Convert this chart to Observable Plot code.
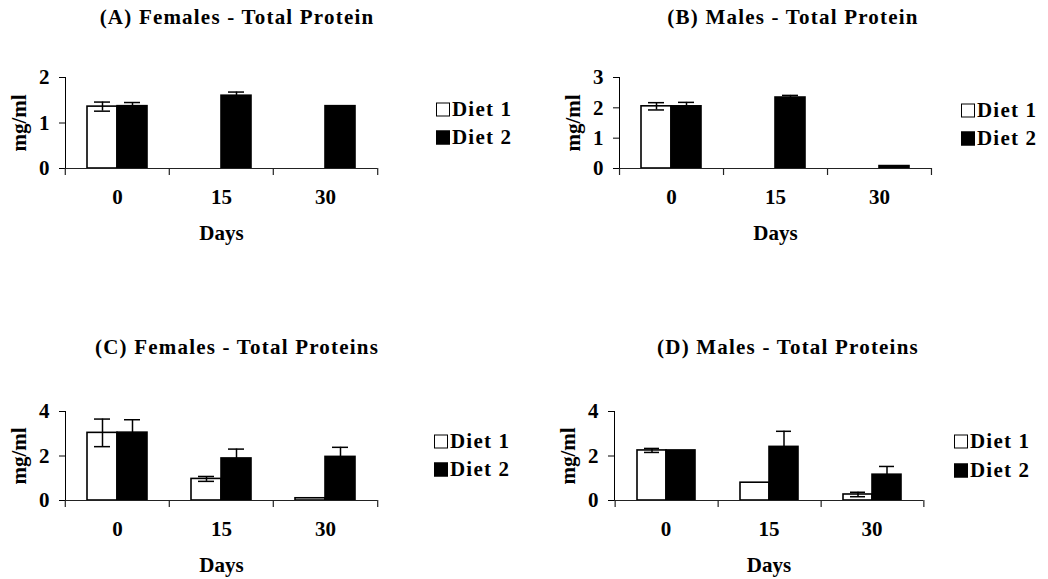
<!DOCTYPE html>
<html>
<head>
<meta charset="utf-8">
<script src="https://cdn.jsdelivr.net/npm/d3@7"></script>
<script src="https://cdn.jsdelivr.net/npm/@observablehq/plot@0.6"></script>
<style>
  html, body { margin: 0; padding: 0; background: #fff; }
  #root { position: relative; width: 1048px; height: 579px; overflow: hidden;
          font-family: "Liberation Serif", "Times New Roman", serif; font-weight: bold; color: #000; }
  .title { position: absolute; font-size: 21px; letter-spacing: 1.2px; white-space: nowrap;
           transform: translate(-50%, -50%); line-height: 1; }
  .panel { position: absolute; }
  .legend-row { position: absolute; font-size: 21px; letter-spacing: 1.2px; white-space: nowrap;
                line-height: 1; display: flex; align-items: center; transform: translateY(-50%); }
  .sw { display: inline-block; width: 14px; height: 14px; border: 1.5px solid #000; box-sizing: border-box; margin-right: 2px; }
</style>
</head>
<body>
<div id="root"></div>
<script>
// ---------- data ----------
const days = ["0", "15", "30"];
const diets = ["Diet 1", "Diet 2"];
const titles = [
  "(A) Females - Total Protein",
  "(B) Males - Total Protein",
  "(C) Females - Total Proteins",
  "(D) Males - Total Proteins"
];
const yLabel = "mg/ml";
const xLabel = "Days";

// (A) Females - Total Protein
const aDiet1 = [1.36, 0, 0];
const aDiet1Err = [0.10, 0, 0];
const aDiet2 = [1.37, 1.60, 1.37];
const aDiet2Err = [0.08, 0.08, 0];
const aTicks = [0, 1, 2];

// (B) Males - Total Protein
const bDiet1 = [2.05, 0, 0];
const bDiet1Err = [0.12, 0, 0];
const bDiet2 = [2.05, 2.34, 0.08];
const bDiet2Err = [0.13, 0.07, 0];
const bTicks = [0, 1, 2, 3];

// (C) Females - Total Proteins
const cDiet1 = [3.04, 0.97, 0.10];
const cDiet1Err = [0.62, 0.11, 0];
const cDiet2 = [3.05, 1.89, 1.96];
const cDiet2Err = [0.58, 0.42, 0.43];
const cTicks = [0, 2, 4];

// (D) Males - Total Proteins
const dDiet1 = [2.25, 0.80, 0.27];
const dDiet1Err = [0.09, 0, 0.10];
const dDiet2 = [2.25, 2.41, 1.16];
const dDiet2Err = [0, 0.70, 0.37];
const dTicks = [0, 2, 4];

// ---------- layout (pixels) ----------
const layout = [
  {x0: 0,   y0: 40,  fl: 64,  fr: 378, ft: 77,  fb: 168, tx: 237, ty: 17,  lx: 436, ly: [109, 137]},
  {x0: 520, y0: 40,  fl: 619, fr: 931, ft: 77,  fb: 168, tx: 793, ty: 17,  lx: 961, ly: [110, 138]},
  {x0: 0,   y0: 372, fl: 64,  fr: 378, ft: 411, fb: 500, tx: 237, ty: 347, lx: 434, ly: [441, 469]},
  {x0: 520, y0: 372, fl: 613, fr: 924, ft: 411, fb: 500, tx: 788, ty: 347, lx: 954, ly: [441, 470]}
];

const series = [
  [aDiet1, aDiet1Err, aDiet2, aDiet2Err, aTicks],
  [bDiet1, bDiet1Err, bDiet2, bDiet2Err, bTicks],
  [cDiet1, cDiet1Err, cDiet2, cDiet2Err, cTicks],
  [dDiet1, dDiet1Err, dDiet2, dDiet2Err, dTicks]
];

const root = document.getElementById("root");
const PAD_OUTER = 0.73;

series.forEach(([d1, e1, d2, e2, ticks], k) => {
  const L = layout[k];
  const data = days.flatMap((day, i) => [
    {day, diet: diets[0], value: d1[i], err: e1[i]},
    {day, diet: diets[1], value: d2[i], err: e2[i]}
  ]);
  const errs = data.filter(d => d.err > 0);
  const marginLeft = L.fl - L.x0;
  const marginTop = L.ft - L.y0;
  const marginRight = 14;
  const marginBottom = 78;
  const width = L.fr - L.x0 + marginRight;
  const height = L.fb - L.y0 + marginBottom;
  const facetW = (L.fr - L.fl) / days.length;
  const step = facetW / (diets.length + 2 * PAD_OUTER);
  const sepOff = PAD_OUTER * step + step / 2;

  const chart = Plot.plot({
    width, height, marginLeft, marginTop, marginRight, marginBottom,
    style: {fontFamily: "'Liberation Serif', 'Times New Roman', serif", fontSize: "21px", fontWeight: "bold", background: "transparent", overflow: "visible", color: "#000"},
    fx: {domain: days, padding: 0, axis: "bottom", label: xLabel, labelAnchor: "center", tickSize: 0, tickPadding: 21, labelOffset: 71},
    x: {domain: diets, paddingInner: 0, paddingOuter: PAD_OUTER, axis: null},
    y: {domain: [0, ticks[ticks.length - 1]], ticks, tickFormat: d => String(d), tickSize: 6, tickPadding: 10, line: true,
        label: yLabel, labelAnchor: "center", labelOffset: 54, labelArrow: false},
    color: {domain: diets, range: ["white", "black"]},
    marks: [
      Plot.barY(data, {fx: "day", x: "diet", y: "value", fill: "diet", stroke: "black", strokeWidth: 1.6}),
      Plot.ruleX(errs, {fx: "day", x: "diet", y1: d => d.value - d.err, y2: d => d.value + d.err, stroke: "black", strokeWidth: 1.5}),
      Plot.tickY(errs, {fx: "day", x: "diet", y: d => d.value + d.err, insetLeft: 7, insetRight: 7, stroke: "black", strokeWidth: 1.5}),
      Plot.tickY(errs, {fx: "day", x: "diet", y: d => d.value - d.err, insetLeft: 7, insetRight: 7, stroke: "black", strokeWidth: 1.5}),
      Plot.ruleY([0], {stroke: "#222", strokeWidth: 1.2}),
      Plot.ruleX(days, {fx: d => d, x: () => diets[0], dx: -sepOff, y1: 0, y2: 0, insetBottom: -7, stroke: "#222", strokeWidth: 1.2}),
      Plot.ruleX([days[days.length - 1]], {fx: d => d, x: () => diets[1], dx: sepOff, y1: 0, y2: 0, insetBottom: -7, stroke: "#222", strokeWidth: 1.2})
    ]
  });
  const holder = document.createElement("div");
  holder.className = "panel";
  holder.style.left = L.x0 + "px";
  holder.style.top = L.y0 + "px";
  holder.appendChild(chart);
  root.appendChild(holder);

  const t = document.createElement("div");
  t.className = "title";
  t.style.left = L.tx + "px";
  t.style.top = L.ty + "px";
  t.textContent = titles[k];
  root.appendChild(t);

  diets.forEach((name, j) => {
    const row = document.createElement("div");
    row.className = "legend-row";
    row.style.left = L.lx + "px";
    row.style.top = L.ly[j] + "px";
    const sw = document.createElement("span");
    sw.className = "sw";
    sw.style.background = j === 0 ? "white" : "black";
    row.appendChild(sw);
    row.appendChild(document.createTextNode(name));
    root.appendChild(row);
  });
});
</script>
</body>
</html>
